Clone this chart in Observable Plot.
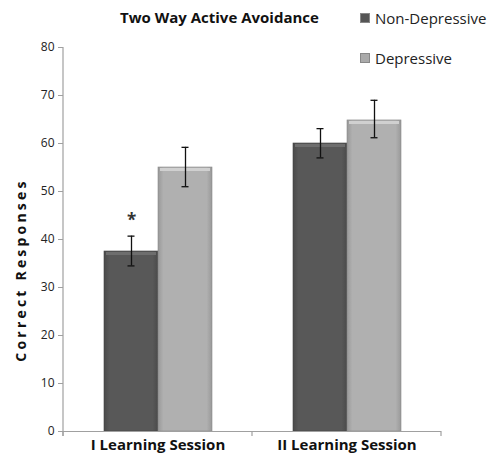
<!DOCTYPE html>
<html>
<head>
<meta charset="utf-8">
<script src="https://cdn.jsdelivr.net/npm/d3@7"></script>
<script src="https://cdn.jsdelivr.net/npm/@observablehq/plot@0.6"></script>
<style>
  body { margin: 0; background: #fff; }
  #wrap { position: relative; width: 491px; height: 460px; font-family: "Open Sans", "Liberation Sans", sans-serif; }
  #title { position: absolute; left: 120px; top: 7px; font-weight: bold; font-size: 15px; color: #111; }
  .leg { position: absolute; left: 360px; font-size: 15px; color: #222; display: flex; align-items: center; }
  .sw { width: 8px; height: 8px; margin-right: 5px; border: 1px solid #888; }
  #ylabel { position: absolute; top: 270px; transform: translate(-50%, -50%) rotate(-90deg); transform-origin: center; white-space: nowrap; font-weight: bold; font-size: 14px; letter-spacing: 3.2px; color: #111; left: 20px; }
</style>
</head>
<body>
<div id="wrap"></div>
<script>
const sessions = ["I Learning Session", "II Learning Session"];
const groups = ["Non-Depressive", "Depressive"];
const means = [[37.5, 55.0], [60.0, 64.8]];
const errLow = [[34.5, 51.0], [57.0, 61.2]];
const errHigh = [[40.7, 59.2], [63.1, 69.0]];
const yTicks = [0, 10, 20, 30, 40, 50, 60, 70, 80];
const titleText = "Two Way Active Avoidance";
const yLabel = "Correct Responses";
const marks_star = [{session: "I Learning Session", group: "Non-Depressive", y: 44, label: "*"}];

const data = [];
sessions.forEach((s, i) => groups.forEach((g, j) => data.push({
  session: s, group: g, value: means[i][j], lo: errLow[i][j], hi: errHigh[i][j]
})));

const defs = () => {
  const d = d3.create("svg:defs");
  const mk = (id, edge, mid) => {
    const g = d.append("linearGradient").attr("id", id).attr("x1", 0).attr("x2", 1).attr("y1", 0).attr("y2", 0);
    g.append("stop").attr("offset", "0%").attr("stop-color", edge);
    g.append("stop").attr("offset", "10%").attr("stop-color", mid);
    g.append("stop").attr("offset", "90%").attr("stop-color", mid);
    g.append("stop").attr("offset", "100%").attr("stop-color", edge);
  };
  mk("gDark", "#4a4a4a", "#585858");
  mk("gLight", "#999999", "#b0b0b0");
  return d.node();
};

const plot = Plot.plot({
  width: 491,
  height: 460,
  marginLeft: 63,
  marginRight: 50,
  marginTop: 47,
  marginBottom: 29,
  style: {fontFamily: "'Open Sans', 'Liberation Sans', sans-serif", background: "#fff"},
  fx: {domain: sessions, padding: 0, label: null},
  x: {domain: groups, paddingInner: 0, paddingOuter: 0.75, axis: null},
  y: {domain: [0, 80], label: null},
  marks: [
    defs,
    Plot.axisY({ticks: yTicks, tickSize: 5, tickPadding: 4, fontSize: 12, stroke: "#a0a0a0", color: "#222"}),
    Plot.axisFx({tickSize: 0, tickPadding: 8, fontSize: 15, fontWeight: "bold", color: "#111", anchor: "bottom"}),
    Plot.barY(data.filter(d => d.group === "Non-Depressive"), {fx: "session", x: "group", y: "value", fill: "url(#gDark)", stroke: "#444", strokeWidth: 0.6}),
    Plot.barY(data.filter(d => d.group === "Depressive"), {fx: "session", x: "group", y: "value", fill: "url(#gLight)", stroke: "#8a8a8a", strokeWidth: 0.6}),
    Plot.tickY(data.filter(d => d.group === "Non-Depressive"), {fx: "session", x: "group", y: "value", stroke: "#6e6e6e", strokeWidth: 3, dy: 2, insetLeft: 2, insetRight: 2}),
    Plot.tickY(data.filter(d => d.group === "Depressive"), {fx: "session", x: "group", y: "value", stroke: "#d0d0d0", strokeWidth: 3, dy: 2, insetLeft: 2, insetRight: 2}),
    Plot.ruleX(data, {fx: "session", x: "group", y1: "lo", y2: "hi", stroke: "#111", strokeWidth: 1.3}),
    Plot.tickY(data, {fx: "session", x: "group", y: "lo", stroke: "#111", strokeWidth: 1.3, insetLeft: 23.5, insetRight: 23.5}),
    Plot.tickY(data, {fx: "session", x: "group", y: "hi", stroke: "#111", strokeWidth: 1.3, insetLeft: 23.5, insetRight: 23.5}),
    Plot.text(marks_star, {fx: "session", x: "group", y: "y", text: "label", fontSize: 17, fontWeight: "bold", fill: "#333"}),
    Plot.ruleY([0], {stroke: "#a0a0a0", strokeWidth: 1.2})
  ]
});

const wrap = document.getElementById("wrap");
wrap.appendChild(plot);

// y-axis line and category separator ticks
const yS = plot.scale("y");
const fxS = plot.scale("fx");
const svg = d3.select(plot);
const y0 = yS.apply(0), y80 = yS.apply(80);
const left = 63;
svg.append("line").attr("x1", left).attr("x2", left).attr("y1", y80).attr("y2", y0 + 5)
  .attr("stroke", "#a0a0a0").attr("stroke-width", 1.2);
const bounds = [fxS.apply(sessions[0]), fxS.apply(sessions[1]), fxS.apply(sessions[1]) + fxS.step];
bounds.forEach(b => {
  svg.append("line").attr("x1", b).attr("x2", b).attr("y1", y0).attr("y2", y0 + 5)
    .attr("stroke", "#a0a0a0").attr("stroke-width", 1.2);
});

const t = document.createElement("div"); t.id = "title"; t.textContent = titleText; wrap.appendChild(t);
const yl = document.createElement("div"); yl.id = "ylabel"; yl.textContent = yLabel; wrap.appendChild(yl);
const legColors = {"Non-Depressive": "#555", "Depressive": "#aaa"};
groups.forEach((g, i) => {
  const l = document.createElement("div"); l.className = "leg"; l.style.top = (8 + i * 40) + "px";
  const s = document.createElement("span"); s.className = "sw"; s.style.background = legColors[g];
  l.appendChild(s); l.appendChild(document.createTextNode(g)); wrap.appendChild(l);
});
</script>
</body>
</html>
